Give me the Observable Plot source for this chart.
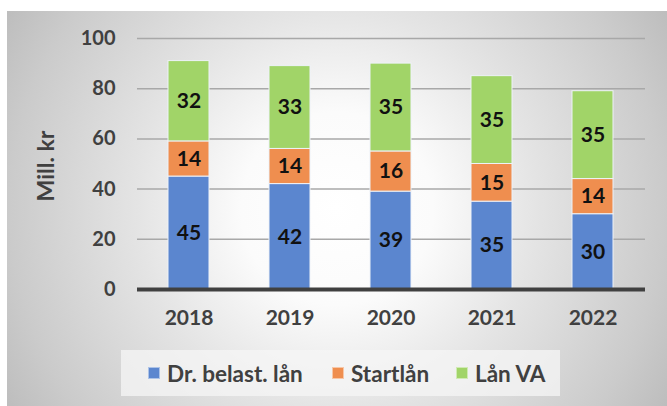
<!DOCTYPE html>
<html>
<head>
<meta charset="utf-8">
<script src="https://cdn.jsdelivr.net/npm/d3@7"></script>
<script src="https://cdn.jsdelivr.net/npm/@observablehq/plot@0.6"></script>
<style>
  html, body { margin: 0; padding: 0; background: #fff; }
  #page { position: relative; width: 667px; height: 406px; overflow: hidden; font-family: Lato, "Liberation Sans", sans-serif; }
  #bg { position: absolute; left: 7px; top: 11px; width: 660px; height: 395px;
        background: radial-gradient(circle farthest-corner at 50% 50%, #ffffff 0%, #fbfbfb 25%, #e4e4e4 52%, #cbcbcb 85%, #bdbdbd 100%); }
  #plot { position: absolute; left: 0; top: 0; }
  #ytitle { position: absolute; left: 45px; top: 166px; transform: translate(-50%, -50%) rotate(-90deg);
            font-weight: 700; font-size: 23px; color: #404040; white-space: nowrap; line-height: 1; }
  #legend { position: absolute; left: 121px; top: 350px; width: 439px; height: 46px;
            background: rgba(246,246,246,0.75); }
  .item { position: absolute; top: 0; height: 46px; display: flex; align-items: center;
          font-weight: 700; font-size: 22.5px; color: #404040; white-space: nowrap; }
  .sw { width: 12px; height: 12px; margin-right: 7px; box-sizing: border-box; }
</style>
</head>
<body>
<div id="page">
  <div id="bg"></div>
  <div id="plot"></div>
  <div id="ytitle"></div>
  <div id="legend"></div>
</div>
<script>
const years = ["2018", "2019", "2020", "2021", "2022"];
const seriesNames = ["Dr. belast. lån", "Startlån", "Lån VA"];
const drBelastLan = [45, 42, 39, 35, 30];
const startlan = [14, 14, 16, 15, 14];
const lanVA = [32, 33, 35, 35, 35];
const seriesColors = ["#5b86cf", "#ef8e4f", "#a1d468"];
const yTicks = [0, 20, 40, 60, 80, 100];
const yLabel = "Mill. kr";

const seriesValues = [drBelastLan, startlan, lanVA];
const rows = [];
seriesNames.forEach((s, i) => {
  years.forEach((y, j) => rows.push({ year: y, series: s, value: seriesValues[i][j] }));
});

const chart = Plot.plot({
  width: 667,
  height: 340,
  marginLeft: 137,
  marginRight: 22,
  marginTop: 38,
  marginBottom: 51,
  style: { background: "transparent", fontFamily: "Lato, 'Liberation Sans', sans-serif", fontWeight: 700, fontSize: "20px", color: "#404040" },
  x: { domain: years, paddingInner: 0.59, paddingOuter: 0.3 },
  y: { domain: [0, 100] },
  color: { domain: seriesNames, range: seriesColors },
  marks: [
    Plot.ruleY(yTicks.filter(d => d > 0), { stroke: "#a8a8a8", strokeWidth: 1.5 }),
    Plot.barY(rows, { x: "year", y: "value", fill: "series", stroke: "#eef2f8", strokeWidth: 1 }),
    Plot.ruleY([0], { stroke: "#404040", strokeWidth: 4 }),
    Plot.axisX({ label: null, tickSize: 0, tickPadding: 21, fontSize: 21, fill: "#404040" }),
    Plot.axisY({ ticks: yTicks, label: null, tickSize: 0, tickPadding: 22, fontSize: 20, fill: "#404040" }),
    Plot.text(rows, Plot.stackY({ x: "year", y: "value", z: "series", text: d => String(d.value), fill: "#111", fontSize: 21, fontWeight: 700 }))
  ]
});
document.getElementById("plot").appendChild(chart);
document.getElementById("ytitle").textContent = yLabel;

const legend = document.getElementById("legend");
const itemLeft = [27, 211, 335];
seriesNames.forEach((s, i) => {
  const it = document.createElement("div");
  it.className = "item";
  it.style.left = itemLeft[i] + "px";
  const sw = document.createElement("div");
  sw.className = "sw";
  sw.style.background = seriesColors[i];
  sw.style.border = "1px solid rgba(255,255,255,0.5)";
  it.appendChild(sw);
  const t = document.createElement("span");
  t.textContent = s;
  it.appendChild(t);
  legend.appendChild(it);
});
</script>
</body>
</html>
